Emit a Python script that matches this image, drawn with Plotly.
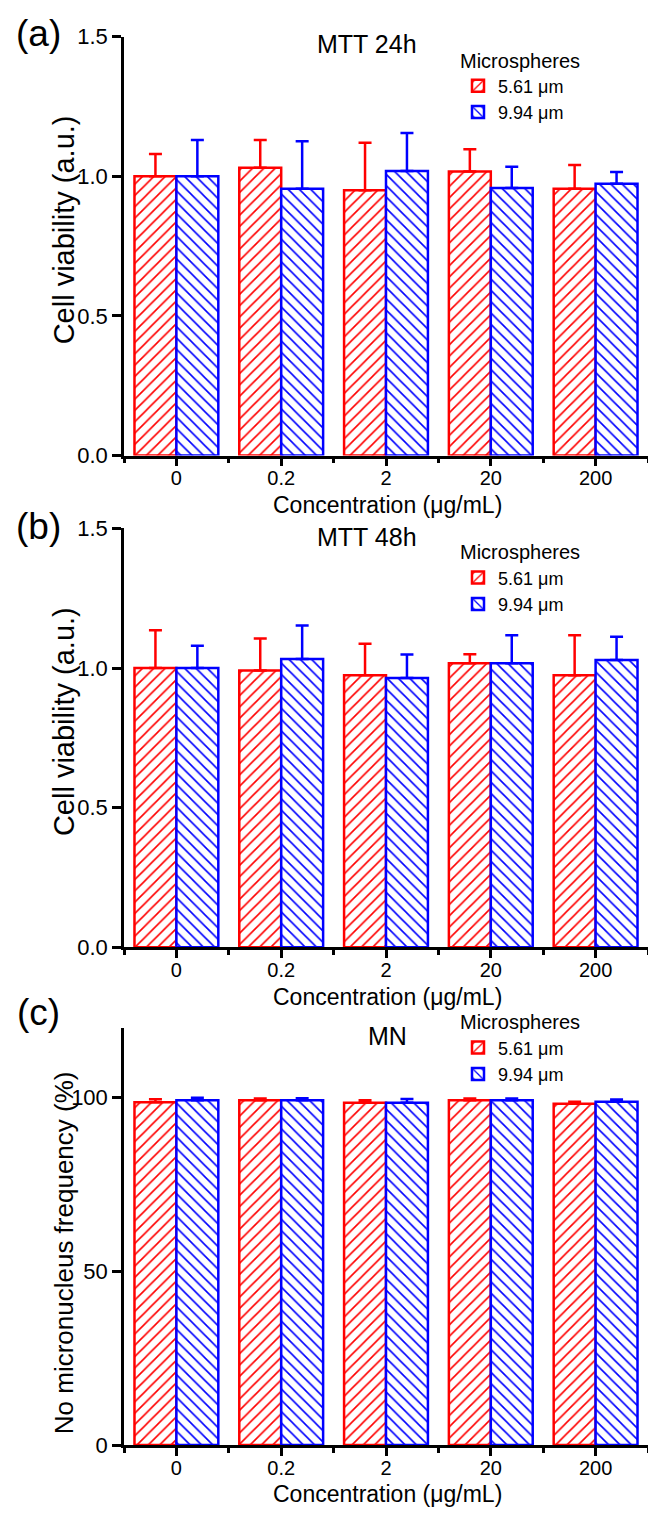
import plotly.graph_objects as go

# ---------------- data ----------------
categories = ["0", "0.2", "2", "20", "200"]
series_names = ["5.61 μm", "9.94 μm"]

mtt24_561 = [1.00, 1.03, 0.95, 1.017, 0.955]
mtt24_561_sd = [0.08, 0.10, 0.17, 0.08, 0.085]
mtt24_994 = [1.00, 0.955, 1.019, 0.958, 0.973]
mtt24_994_sd = [0.13, 0.17, 0.136, 0.076, 0.042]

mtt48_561 = [1.00, 0.991, 0.974, 1.017, 0.974]
mtt48_561_sd = [0.135, 0.115, 0.113, 0.032, 0.143]
mtt48_994 = [1.00, 1.032, 0.964, 1.017, 1.029]
mtt48_994_sd = [0.08, 0.12, 0.084, 0.10, 0.083]

mn_561 = [98.6, 99.2, 98.5, 99.2, 98.2]
mn_561_sd = [0.9, 0.5, 0.7, 0.5, 0.6]
mn_994 = [99.2, 99.2, 98.5, 99.2, 98.8]
mn_994_sd = [0.7, 0.6, 1.1, 0.5, 0.6]

panel_titles = ["MTT 24h", "MTT 48h", "MN"]
panel_letters = ["(a)", "(b)", "(c)"]
y_titles = ["Cell viability (a.u.)", "Cell viability (a.u.)", "No micronucleus frequency (%)"]
x_title = "Concentration (μg/mL)"
y_ranges = [[0, 1.5], [0, 1.5], [0, 120]]
y_ticks = [[0, 0.5, 1.0, 1.5], [0, 0.5, 1.0, 1.5], [0, 50, 100]]
y_tickfmt = [".1f", ".1f", "d"]

# ---------------- styling ----------------
W, H = 648, 1519
FONT = "Liberation Sans, Arial, sans-serif"
RED = "#ff0000"
BLUE = "#0000ff"
colors = [RED, BLUE]
shapes_pat = ["/", "\\"]


def fx(p):
    return p / W


def fy(p):
    return 1 - p / H


# pixel geometry of the three plot areas (top, bottom)
panels = [(25, 451), (525, 951), (1033, 1457)]
x_left = 124
legend_tops = [30, 530, 1008]
letter_y = [22, 523, 1017]
title_y = [33, 534, 1041]
title_x = [367, 367, 387]

data_sets = [
    [(mtt24_561, mtt24_561_sd), (mtt24_994, mtt24_994_sd)],
    [(mtt48_561, mtt48_561_sd), (mtt48_994, mtt48_994_sd)],
    [(mn_561, mn_561_sd), (mn_994, mn_994_sd)],
]

xpos = list(range(len(categories)))

fig = go.Figure()
layout = dict(
    width=W, height=H,
    margin=dict(l=0, r=0, t=0, b=0),
    paper_bgcolor="white", plot_bgcolor="white",
    barmode="group", bargap=0.2, bargroupgap=0.0,
    font=dict(family=FONT, color="black"),
    showlegend=True,
    annotations=[],
)

for i, (top, bot) in enumerate(panels):
    sfx = "" if i == 0 else str(i + 1)
    xa = "x" + sfx
    ya = "y" + sfx
    lg = "legend" + sfx
    for j, (vals, sd) in enumerate(data_sets[i]):
        fig.add_trace(go.Bar(
            x=xpos, y=vals, name=series_names[j],
            xaxis=xa, yaxis=ya, legend=lg,
            offsetgroup=str(j),
            marker=dict(
                color="white",
                line=dict(color=colors[j], width=2.5),
                pattern=dict(shape=shapes_pat[j], fgcolor=colors[j], bgcolor="white",
                             size=8, solidity=0.2, fillmode="replace"),
            ),
            error_y=dict(type="data", symmetric=False, array=sd,
                         arrayminus=[0] * len(sd), color=colors[j],
                         thickness=2.5, width=6.5),
            showlegend=True,
        ))
    layout["xaxis" + sfx] = dict(
        domain=[fx(x_left), 1.0], anchor=ya,
        range=[-0.5, len(categories) - 0.5],
        tickmode="array", tickvals=xpos, ticktext=categories,
        ticks="outside", ticklen=8, tickwidth=2.5, tickcolor="black",
        ticklabelstandoff=-5,
        showline=True, linewidth=2.5, linecolor="black",
        showgrid=False, zeroline=False,
        tickfont=dict(size=20, family=FONT, color="black"),
        minor=dict(tickmode="array", tickvals=[p - 0.5 for p in xpos] + [xpos[-1] + 0.5],
                   ticks="outside", ticklen=5, tickwidth=2.5, tickcolor="black"),
    )
    layout["yaxis" + sfx] = dict(
        domain=[fy(bot), fy(top)], anchor=xa,
        range=y_ranges[i], tickmode="array", tickvals=y_ticks[i],
        tickformat=y_tickfmt[i],
        ticks="outside", ticklen=9, tickwidth=2.5, tickcolor="black",
        showline=True, linewidth=2.5, linecolor="black",
        showgrid=False, zeroline=False,
        tickfont=dict(size=22, family=FONT, color="black"),
    )
    layout[lg] = dict(
        title=dict(text="Microspheres", font=dict(size=20, family=FONT), side="top"),
        x=fx(458), y=fy(legend_tops[i]), xanchor="left", yanchor="top",
        bgcolor="rgba(0,0,0,0)", font=dict(size=18, family=FONT),
        tracegroupgap=0, itemwidth=30,
    )
    mid = (top + bot) / 2
    layout["annotations"] += [
        dict(text=panel_letters[i], x=fx(38), y=fy(letter_y[i]), xref="paper", yref="paper",
             showarrow=False, font=dict(size=37, family=FONT), xanchor="center", yanchor="middle"),
        dict(text=panel_titles[i], x=fx(title_x[i]), y=fy(title_y[i]), xref="paper", yref="paper",
             showarrow=False, font=dict(size=25, family=FONT), xanchor="center", yanchor="middle"),
        dict(text=y_titles[i], x=fx(64), y=fy(mid - 16 if i < 2 else mid + 17), xref="paper", yref="paper",
             showarrow=False, textangle=-90, font=dict(size=29 if i < 2 else 26, family=FONT),
             xanchor="center", yanchor="middle"),
        dict(text=x_title, x=fx(387), y=fy(bot + 50), xref="paper", yref="paper",
             showarrow=False, font=dict(size=23, family=FONT), xanchor="center", yanchor="middle"),
    ]

fig.update_layout(**layout)
fig.write_html("out.html")
